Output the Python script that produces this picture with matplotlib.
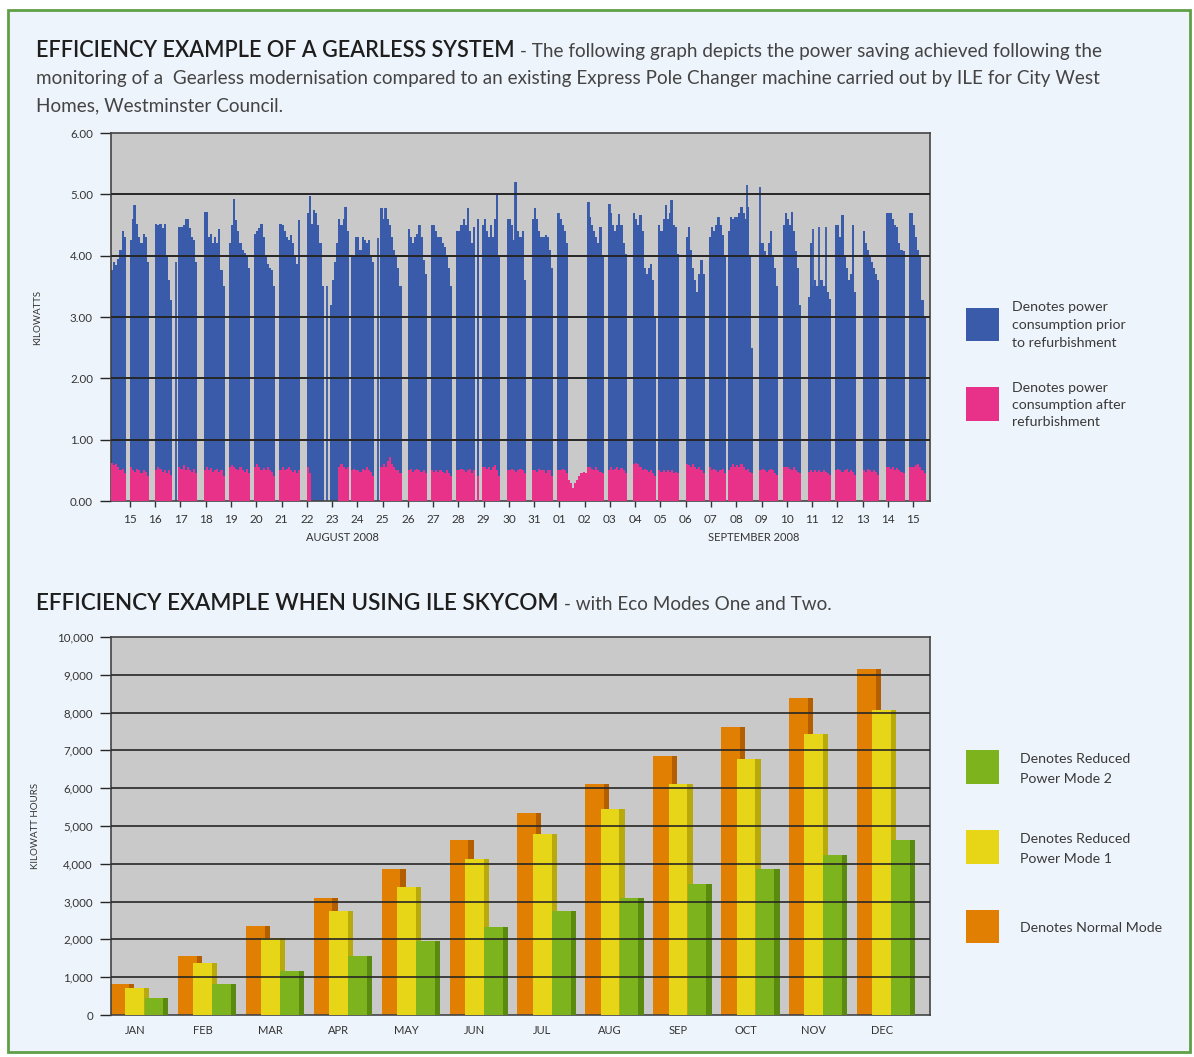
import numpy as np
import matplotlib.pyplot as plt
from matplotlib.patches import Rectangle

plt.rcParams['font.family'] = ['Lato', 'DejaVu Sans']

# two-hourly readings (kW), one row per day from 14 Aug 2008 to 15 Sep 2008
blue_kw = [
    [0, 0, 0, 3.76, 3.9, 3.85, 3.95, 4.1, 4.4, 4.3, 0, 0],
    [4.25, 4.6, 4.82, 4.52, 4.3, 4.2, 4.36, 4.3, 3.9, 0, 0, 0],
    [4.52, 4.5, 4.52, 4.45, 4.52, 4.0, 3.6, 3.27, 0, 0, 0, 4.47],
    [4.47, 4.5, 4.6, 4.6, 4.45, 4.3, 4.25, 3.9, 0, 0, 0, 4.71],
    [4.71, 4.3, 4.35, 4.2, 4.3, 4.2, 4.44, 3.76, 3.5, 0, 0, 4.2],
    [4.5, 4.93, 4.58, 4.4, 4.2, 4.1, 4.05, 4.0, 3.8, 0, 0, 4.36],
    [4.4, 4.45, 4.52, 4.3, 4.0, 3.87, 3.8, 3.76, 3.5, 0, 0, 4.52],
    [4.5, 4.4, 4.3, 4.25, 4.33, 4.2, 4.0, 3.87, 4.58, 0, 0, 0],
    [4.7, 4.98, 4.52, 4.74, 4.7, 4.5, 4.2, 3.5, 0, 0, 0, 3.2],
    [3.6, 3.9, 4.2, 4.6, 4.5, 4.6, 4.8, 4.4, 0, 4.0, 4.0, 4.3],
    [4.3, 4.1, 4.3, 4.25, 4.2, 4.25, 4.0, 3.9, 0, 0, 0, 4.77],
    [4.6, 4.77, 4.6, 4.5, 4.3, 4.1, 4.0, 3.8, 3.5, 0, 0, 0],
    [4.44, 4.3, 4.2, 4.3, 4.35, 4.5, 4.3, 3.93, 3.7, 0, 0, 4.5],
    [4.5, 4.4, 4.3, 4.3, 4.2, 4.14, 4.0, 3.8, 3.5, 0, 0, 4.4],
    [4.4, 4.5, 4.6, 4.5, 4.77, 4.4, 4.2, 4.47, 0, 4.6, 0, 4.5],
    [4.6, 4.4, 4.3, 4.5, 4.3, 4.6, 5.0, 4.0, 0, 0, 0, 4.6],
    [4.6, 4.5, 4.25, 5.2, 4.4, 4.3, 4.4, 3.6, 0, 0, 0, 4.6],
    [4.77, 4.6, 4.4, 4.3, 4.3, 4.33, 4.3, 4.1, 3.8, 0, 0, 4.7],
    [4.6, 4.5, 4.4, 4.2, 0, 0, 0, 0, 0, 0, 0, 0],
    [0, 4.88, 4.63, 4.5, 4.4, 4.3, 4.2, 4.47, 4.0, 0, 0, 4.85],
    [4.7, 4.5, 4.4, 4.5, 4.68, 4.5, 4.2, 4.03, 0, 0, 0, 4.7],
    [4.6, 4.5, 4.66, 4.4, 3.8, 3.7, 3.8, 3.87, 3.6, 3.0, 0, 4.5],
    [4.4, 4.6, 4.82, 4.6, 4.7, 4.9, 4.5, 4.47, 4.03, 0, 0, 0],
    [4.3, 4.47, 4.1, 3.8, 3.6, 3.4, 3.7, 3.93, 3.7, 0, 0, 4.3],
    [4.47, 4.4, 4.5, 4.63, 4.5, 4.33, 4.0, 0, 4.4, 4.63, 4.6, 4.63],
    [4.63, 4.7, 4.8, 4.7, 4.6, 4.8, 4.0, 2.5, 0, 0, 0, 4.2],
    [4.2, 4.08, 4.0, 4.2, 4.41, 4.0, 3.8, 3.5, 0, 0, 4.5, 4.7],
    [4.6, 4.5, 4.72, 4.4, 4.08, 3.8, 3.2, 0, 0, 0, 3.33, 4.2],
    [3.5, 3.6, 3.5, 3.5, 3.6, 3.5, 3.5, 3.4, 3.3, 0, 0, 4.5],
    [4.5, 4.3, 4.66, 4.0, 3.8, 3.6, 3.7, 4.5, 3.4, 0, 0, 0],
    [4.4, 4.2, 4.1, 4.0, 3.9, 3.8, 3.7, 3.6, 0, 0, 0, 4.7],
    [4.7, 4.7, 4.6, 4.5, 4.47, 4.2, 4.1, 4.08, 0, 0, 4.7, 4.7],
    [4.5, 4.3, 4.1, 4.0, 3.27, 3.0, 0, 0, 0, 0, 0, 0],
]
pink_kw = [
    [0, 0, 0, 0.62, 0.58, 0.6, 0.55, 0.5, 0.52, 0.45, 0, 0],
    [0.55, 0.5, 0.48, 0.52, 0.5, 0.45, 0.5, 0.47, 0.4, 0, 0, 0],
    [0.5, 0.55, 0.52, 0.48, 0.5, 0.46, 0.5, 0.42, 0, 0, 0, 0.55],
    [0.52, 0.58, 0.5, 0.55, 0.5, 0.48, 0.52, 0.45, 0, 0, 0, 0.5],
    [0.55, 0.5, 0.53, 0.48, 0.5, 0.52, 0.47, 0.5, 0.4, 0, 0, 0.55],
    [0.58, 0.55, 0.52, 0.5, 0.55, 0.5, 0.48, 0.52, 0.45, 0, 0, 0.55],
    [0.6, 0.55, 0.5, 0.53, 0.5, 0.55, 0.5, 0.48, 0.4, 0, 0, 0.5],
    [0.55, 0.5, 0.52, 0.55, 0.5, 0.48, 0.5, 0.45, 0.5, 0, 0, 0],
    [0.55, 0.45, 0, 0, 0, 0, 0, 0, 0, 0, 0, 0],
    [0, 0, 0, 0.55, 0.6, 0.55, 0.52, 0.55, 0, 0.5, 0.52, 0.5],
    [0.5, 0.48, 0.52, 0.5, 0.55, 0.5, 0.48, 0.4, 0, 0, 0, 0.55],
    [0.6, 0.55, 0.65, 0.72, 0.6, 0.55, 0.5, 0.5, 0.45, 0, 0, 0],
    [0.5, 0.52, 0.48, 0.5, 0.52, 0.5, 0.48, 0.5, 0.45, 0, 0, 0.5],
    [0.48, 0.5, 0.47, 0.5, 0.48, 0.45, 0.5, 0.46, 0.4, 0, 0, 0.5],
    [0.5, 0.52, 0.5, 0.48, 0.5, 0.52, 0.45, 0.5, 0, 0.4, 0, 0.55],
    [0.55, 0.52, 0.55, 0.5, 0.55, 0.58, 0.5, 0.4, 0, 0, 0, 0.5],
    [0.5, 0.52, 0.5, 0.48, 0.5, 0.52, 0.5, 0.45, 0, 0, 0, 0.5],
    [0.5, 0.48, 0.52, 0.5, 0.5, 0.46, 0.5, 0.5, 0.4, 0, 0, 0.5],
    [0.5, 0.52, 0.5, 0.45, 0.35, 0.3, 0.22, 0.3, 0.35, 0.4, 0.45, 0.48],
    [0.45, 0.55, 0.55, 0.52, 0.5, 0.55, 0.5, 0.48, 0.45, 0, 0, 0.5],
    [0.55, 0.5, 0.52, 0.55, 0.5, 0.53, 0.5, 0.45, 0, 0, 0, 0.6],
    [0.62, 0.6, 0.55, 0.5, 0.52, 0.5, 0.48, 0.5, 0.45, 0.4, 0, 0.5],
    [0.48, 0.5, 0.47, 0.5, 0.48, 0.5, 0.46, 0.48, 0.45, 0, 0, 0],
    [0.6, 0.58, 0.55, 0.6, 0.55, 0.52, 0.55, 0.5, 0.45, 0, 0, 0.55],
    [0.5, 0.52, 0.5, 0.48, 0.5, 0.52, 0.45, 0, 0.5, 0.55, 0.6, 0.55],
    [0.58, 0.55, 0.6, 0.55, 0.5, 0.52, 0.48, 0.45, 0, 0, 0, 0.5],
    [0.52, 0.5, 0.48, 0.5, 0.52, 0.5, 0.46, 0.42, 0, 0, 0.55, 0.55],
    [0.55, 0.52, 0.5, 0.55, 0.5, 0.48, 0.45, 0, 0, 0, 0.48, 0.5],
    [0.48, 0.5, 0.47, 0.5, 0.48, 0.5, 0.47, 0.45, 0.42, 0, 0, 0.5],
    [0.52, 0.5, 0.48, 0.5, 0.52, 0.48, 0.5, 0.47, 0.42, 0, 0, 0],
    [0.5, 0.48, 0.52, 0.5, 0.47, 0.5, 0.48, 0.42, 0, 0, 0, 0.55],
    [0.55, 0.52, 0.55, 0.5, 0.53, 0.5, 0.48, 0.45, 0, 0, 0.55, 0.55],
    [0.55, 0.58, 0.6, 0.55, 0.5, 0.45, 0, 0, 0, 0, 0, 0],
]
# short peaks (days after 15 Aug midnight, kW)
spike_day = [-0.28, 0.18, 1.83, 2.3, 3.05, 4.12, 5.2, 6.69, 7.11, 7.79, 8.51, 9.8,
             10.08, 11.48, 13.38, 14.52, 15.24, 16.05, 17.0, 18.17, 19.02, 20.2,
             21.43, 23.3, 24.44, 24.96, 25.38, 26.22, 27.04, 27.27, 27.54,
             28.19, 30.1, 30.96]
spike_kw = [4.4, 4.82, 3.9, 4.6, 4.71, 4.93, 4.52, 4.58, 4.98, 3.5, 4.8, 4.28,
            4.77, 4.5, 4.77, 5.0, 5.2, 4.77, 4.7, 4.88, 4.85, 4.66,
            4.9, 4.63, 5.15, 5.12, 4.41, 4.72, 4.44, 4.47, 4.47,
            4.66, 4.7, 4.7]

day_labels = [f'{d}' for d in range(15, 32)] + [f'{d:02d}' for d in range(1, 16)]

months = ['JAN', 'FEB', 'MAR', 'APR', 'MAY', 'JUN',
          'JUL', 'AUG', 'SEP', 'OCT', 'NOV', 'DEC']
normal_mode = [810, 1560, 2360, 3100, 3860, 4630, 5340, 6120, 6860, 7620, 8380, 9150]
reduced_1 = [710, 1370, 2030, 2740, 3380, 4120, 4790, 5450, 6120, 6770, 7440, 8080]
reduced_2 = [460, 810, 1170, 1570, 1970, 2340, 2740, 3090, 3470, 3860, 4230, 4630]

W, H = 1194, 1057
BLUE, PINK = '#3a5ba9', '#e8328a'
GRID = '#262626'
TXT = '#333333'


def fx(x):
    return x / W


def fy(y):
    return 1 - y / H


fig = plt.figure(figsize=(W / 100, H / 100), dpi=100)
fig.patch.set_facecolor('white')
fig.add_artist(Rectangle((fx(8), fy(1052)), fx(1190) - fx(8), fy(10) - fy(1052),
                         transform=fig.transFigure, facecolor='#eef4fb',
                         edgecolor='#5f9f45', linewidth=2, zorder=0))

# headings: bold lead-in followed by a lighter sentence on the same line
renderer = fig.canvas.get_renderer()
BODY = 13.6


def heading(y, bold, rest, size):
    t = fig.text(fx(36), fy(y), bold, fontsize=size, color='#1e1e1e',
                 fontweight='semibold', va='baseline', ha='left')
    bb = t.get_window_extent(renderer)
    fig.text(bb.x1 / W + fx(5), fy(y), rest, fontsize=BODY, color='#444444',
             va='baseline', ha='left')


heading(57, 'EFFICIENCY EXAMPLE OF A GEARLESS SYSTEM',
        '- The following graph depicts the power saving achieved following the', 15.6)
fig.text(fx(36), fy(84), 'monitoring of a  Gearless modernisation compared to an existing '
         'Express Pole Changer machine carried out by ILE for City West',
         fontsize=BODY, color='#444444', va='baseline')
fig.text(fx(36), fy(111), 'Homes, Westminster Council.', fontsize=BODY,
         color='#444444', va='baseline')
heading(610, 'EFFICIENCY EXAMPLE WHEN USING ILE SKYCOM', '- with Eco Modes One and Two.', 16.2)

# --- power consumption time series ---
ax1 = fig.add_axes([fx(111), fy(501), fx(930) - fx(111), fy(133) - fy(501)])
ax1.set_facecolor('#c9c9c9')
blue = np.concatenate(blue_kw)
pink = np.concatenate(pink_kw)
edges = np.arange(len(blue) + 1) / 12 - 1
ax1.stairs(blue, edges, fill=True, facecolor=BLUE, linewidth=0, zorder=2)
ax1.vlines(spike_day, 0, spike_kw, color=BLUE, linewidth=1.3, zorder=2)
ax1.stairs(pink, edges, fill=True, facecolor=PINK, linewidth=0, zorder=3)
for v in range(1, 6):
    ax1.axhline(v, color=GRID, linewidth=1.4, zorder=4)
ax1.set_xlim(-0.75, 31.67)
ax1.set_ylim(0, 6)
ax1.set_yticks(range(7))
ax1.set_yticklabels([f'{v:.2f}' for v in range(7)])
ax1.set_xticks(range(len(day_labels)))
ax1.set_xticklabels(day_labels)
ax1.tick_params(axis='y', length=8, width=1, color=GRID, pad=5, labelsize=8.3, labelcolor=TXT)
ax1.tick_params(axis='x', length=4, width=1, color=TXT, pad=5, labelsize=8.5, labelcolor=TXT)
for s in ax1.spines.values():
    s.set_color('#444444')
    s.set_linewidth(1.2)
ax1.set_ylabel('KILOWATTS', fontsize=7, color=TXT, labelpad=20)
ax1.text(8.4, -0.6, 'AUGUST 2008', fontsize=8, color=TXT, ha='center', va='center')
ax1.text(24.7, -0.6, 'SEPTEMBER 2008', fontsize=8, color=TXT, ha='center', va='center')

# --- monthly energy by mode ---
ax2 = fig.add_axes([fx(111), fy(1015), fx(930) - fx(111), fy(637) - fy(1015)])
ax2.set_facecolor('#c9c9c9')
x = np.arange(len(months))
bw = 0.353
series = [
    (normal_mode, -0.19, '#e07f02', '#b35f00', 2),
    (reduced_1, 0.037, '#e7d518', '#b8a90c', 3),
    (reduced_2, 0.317, '#7db31c', '#5a8b10', 4),
]
for vals, off, face, dark, z in series:
    ax2.bar(x + off, vals, width=bw, color=face, linewidth=0, zorder=z)
    ax2.bar(x + off + 0.39 * bw, vals, width=0.22 * bw, color=dark, linewidth=0, zorder=z)
for v in range(1000, 10000, 1000):
    ax2.axhline(v, color=GRID, linewidth=1.4, alpha=0.85, zorder=5)
ax2.set_xlim(-0.353, 11.71)
ax2.set_ylim(0, 10000)
ax2.set_yticks(range(0, 10001, 1000))
ax2.set_yticklabels([f'{v:,}' for v in range(0, 10001, 1000)])
ax2.set_xticks(x)
ax2.set_xticklabels(months)
ax2.tick_params(axis='y', length=8, width=1, color=GRID, pad=5, labelsize=8.3, labelcolor=TXT)
ax2.tick_params(axis='x', length=0, pad=7, labelsize=8, labelcolor=TXT)
for s in ax2.spines.values():
    s.set_color('#444444')
    s.set_linewidth(1.2)
ax2.set_ylabel('KILOWATT HOURS', fontsize=7, color=TXT, labelpad=12)

# --- keys ---
def key(y0, y1, color, lines, tx, ys):
    fig.add_artist(Rectangle((fx(966), fy(y1)), fx(999) - fx(966), fy(y0) - fy(y1),
                             transform=fig.transFigure, facecolor=color, linewidth=0))
    for line, y in zip(lines, ys):
        fig.text(fx(tx), fy(y), line, fontsize=10.2, color='#3a3a3a', va='baseline')


key(308, 341, BLUE, ['Denotes power', 'consumption prior', 'to refurbishment'], 1012, [311, 329, 347])
key(387, 421, PINK, ['Denotes power', 'consumption after', 'refurbishment'], 1012, [392, 409, 426])
key(750, 784, '#7db31c', ['Denotes Reduced', 'Power Mode 2'], 1020, [763, 783])
key(830, 864, '#e7d518', ['Denotes Reduced', 'Power Mode 1'], 1020, [843, 863])
key(910, 943, '#e07f02', ['Denotes Normal Mode'], 1020, [932])

fig.savefig('out.png', dpi=100)
